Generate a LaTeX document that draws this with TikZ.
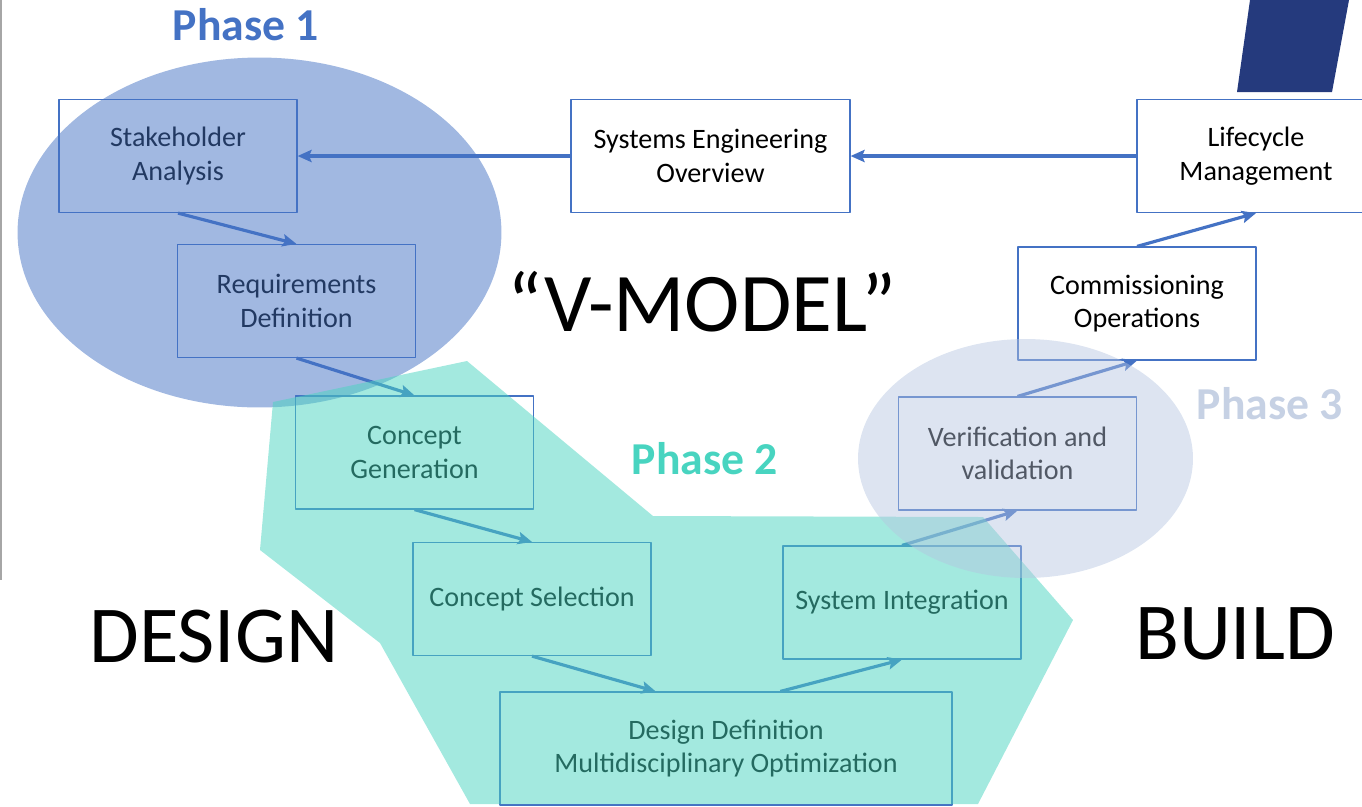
\documentclass[tikz,border=0pt]{standalone}
\usepackage{fontspec}
\setmainfont{Carlito}
\usetikzlibrary{arrows.meta,calc}
\definecolor{vblue}{RGB}{68,114,196}
\definecolor{vteal}{RGB}{72,212,192}
\definecolor{vgray}{RGB}{180,196,224}
\definecolor{vpale}{RGB}{198,209,228}
\definecolor{vnavy}{RGB}{37,58,125}
\tikzset{
	box/.style={draw=vblue, fill=white, line width=.7pt, inner sep=0pt, minimum width=4.76cm, minimum height=2.26cm, align=center, font=\fontsize{16}{19}\selectfont},
	link/.style={->, vblue, line width=1.8pt},
	big/.style={anchor=base, font=\fontsize{46}{50}\selectfont},
	phase/.style={anchor=base, font=\bfseries\fontsize{26}{30}\selectfont},
}
\begin{document}
\begin{tikzpicture}[x=0.02cm, y=-0.02cm, line join=round, >={Stealth[length=8pt,width=7pt,inset=1.5pt]}]
	\useasboundingbox (0,0) rectangle (1362,806);
	\fill[vnavy] (1250,0)--(1349,0)--(1332,92)--(1237,92)--cycle;
	\draw[gray!70, line width=1pt] (1,0)--(1,580);
	% boxes of the V
	\node[box] (sa) at (178,156) {Stakeholder\\Analysis};
	\node[box] (rd) at (296.5,301) {Requirements\\Definition};
	\node[box] (cg) at (414.5,452.5) {Concept\\Generation};
	\node[box] (cs) at (532,599) {Concept Selection};
	\node[box, minimum width=9.04cm] (dd) at (726,748.5) {Design Definition\\Multidisciplinary Optimization};
	\node[box] (si) at (902,602.5) {System Integration};
	\node[box] (vv) at (1017.5,453.5) {Verification and\\validation};
	\node[box] (co) at (1137,303.5) {Commissioning\\Operations};
	\node[box] (lm) at (1256,156) {Lifecycle\\Management};
	\node[box, minimum width=5.58cm] (seo) at (710.5,156) {Systems Engineering\\Overview};
	% links
	\draw[link] (lm.west)--(seo.east);
	\draw[link] (seo.west)--(sa.east);
	\foreach \a/\b in {sa/rd, rd/cg, cg/cs} \draw[link] (\a.south)--(\b.north);
	\draw[link] (cs.south)--($(dd.north)!.31!(dd.north west)$);
	\draw[link] ($(dd.north)!.24!(dd.north east)$)--(si.south);
	\foreach \a/\b in {si/vv, vv/co, co/lm} \draw[link] (\a.north)--(\b.south);
	% phases
	\fill[vblue, opacity=.5] (259.5,232.5) ellipse [x radius=4.84cm, y radius=3.5cm];
	\fill[vteal, opacity=.5] (273,402)--(467,361)--(653,516)--(983,517)--(1073,620)--(978,804)--(470,804)--(380,643)--(260,550)--cycle;
	\fill[vgray, opacity=.45] (1025.5,458.5) ellipse [x radius=3.35cm, y radius=2.39cm];
	\node[phase, text=vblue] (p1) at (246,40) {Phase 1};
	\node[phase, text=vteal] (p2) at (705,474) {Phase 2};
	\node[phase, text=vpale] (p3) at (1270,419) {Phase 3};
	\node[big, font=\fontsize{47.5}{50}\selectfont] (vm) at (702,331) {“V-MODEL”};
	\node[big] (ds) at (214,662) {DESIGN};
	\node[big] (bd) at (1235,659) {BUILD};
\end{tikzpicture}
\end{document}
